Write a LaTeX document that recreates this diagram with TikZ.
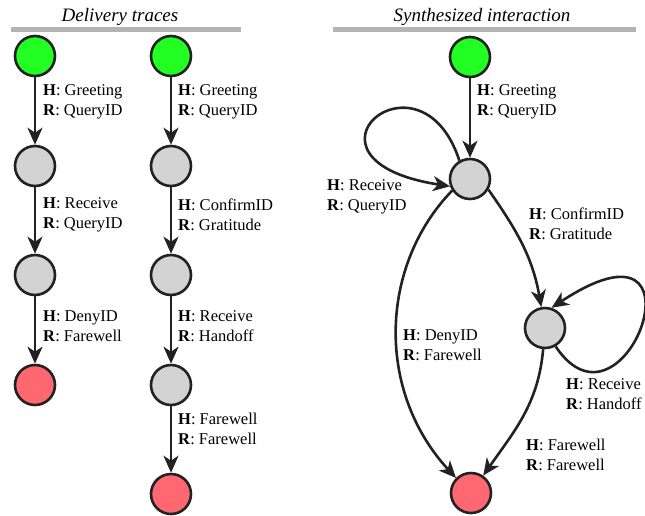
\documentclass[tikz,border=0pt]{standalone}
\usepackage{fontspec}
\setmainfont{Liberation Serif}
\usetikzlibrary{arrows.meta}
\definecolor{ink}{HTML}{222222}
\definecolor{startc}{HTML}{22FF22}
\definecolor{midc}{HTML}{D3D3D3}
\definecolor{endc}{HTML}{FF6870}
\definecolor{barc}{HTML}{B4B4B4}
\tikzset{
  st/.style={circle, draw=ink, line width=2.6pt, minimum size=40pt, inner sep=0pt},
  startst/.style={st, fill=startc},
  midst/.style={st, fill=midc},
  endst/.style={st, fill=endc},
  tr/.style={draw=ink, line width=2.6pt, -{Stealth[length=17pt, width=15pt, inset=5pt]}},
  lbl/.style={font=\rmfamily\fontsize{16.5}{20.5}\selectfont, align=left, inner sep=0pt, anchor=west},
  ttl/.style={font=\rmfamily\fontsize{19}{20}\selectfont\itshape, inner sep=0pt},
  bar/.style={draw=barc, line width=5pt}
}
\newcommand{\hr}[2]{\textbf{H}: #1\\\textbf{R}: #2}
\begin{document}
\begin{tikzpicture}[x=1pt, y=-1pt]
\useasboundingbox (0,0) rectangle (645,515);
% titles and bars
\node[ttl] (t1) at (120,17) {Delivery traces};
\node[ttl] (t2) at (482,17) {Synthesized interaction};
\coordinate (b1a) at (11,29.5); \coordinate (b1b) at (241,29.5);
\coordinate (b2a) at (333,29.5); \coordinate (b2b) at (636,29.5);
\draw[bar] (b1a) -- (b1b);
\draw[bar] (b2a) -- (b2b);
% trace 1
\node[startst] (a0) at (35,56) {};
\node[midst] (a1) at (35,166) {};
\node[midst] (a2) at (35,275) {};
\node[endst] (a3) at (35,385) {};
\draw[tr] (a0) -- (a1);
\draw[tr] (a1) -- (a2);
\draw[tr] (a2) -- (a3);
\node[lbl] (la1) at (43,102) {\hr{Greeting}{QueryID}};
\node[lbl] (la2) at (43,215) {\hr{Receive}{QueryID}};
\node[lbl] (la3) at (43,326) {\hr{DenyID}{Farewell}};
% trace 2
\node[startst] (b0) at (171,56) {};
\node[midst] (b1) at (171,166) {};
\node[midst] (b2) at (171,275) {};
\node[midst] (b3) at (171,385) {};
\node[endst] (b4) at (171,494) {};
\draw[tr] (b0) -- (b1);
\draw[tr] (b1) -- (b2);
\draw[tr] (b2) -- (b3);
\draw[tr] (b3) -- (b4);
\node[lbl] (lb1) at (178,102) {\hr{Greeting}{QueryID}};
\node[lbl] (lb2) at (178,215) {\hr{ConfirmID}{Gratitude}};
\node[lbl] (lb3) at (178,326) {\hr{Receive}{Handoff}};
\node[lbl] (lb4) at (178,429) {\hr{Farewell}{Farewell}};
% synthesized
\node[startst] (s0) at (470,57) {};
\node[midst] (s1) at (470,179) {};
\node[midst] (s2) at (545,328) {};
\node[endst] (s3) at (471,493) {};
\draw[tr] (s0) -- (s1);
\draw[tr] (s1.120) .. controls (420,40) and (280,160) .. (s1.200);
\draw[tr] (s1.-30) to[out=-55, in=100] (s2);
\draw[tr] (s1.213) .. controls (380,265) and (375,390) .. (s3.135);
\draw[tr] (s2.-60) .. controls (625,450) and (715,200) .. (s2.72);
\draw[tr] (s2) to[out=-95, in=55] (s3);
\node[lbl] (ls1) at (477,102) {\hr{Greeting}{QueryID}};
\node[lbl] (ls2) at (327,197) {\hr{Receive}{QueryID}};
\node[lbl] (ls3) at (529,224) {\hr{ConfirmID}{Gratitude}};
\node[lbl] (ls4) at (403,345) {\hr{DenyID}{Farewell}};
\node[lbl] (ls5) at (566,394) {\hr{Receive}{Handoff}};
\node[lbl] (ls6) at (526,455) {\hr{Farewell}{Farewell}};
\end{tikzpicture}
\end{document}
